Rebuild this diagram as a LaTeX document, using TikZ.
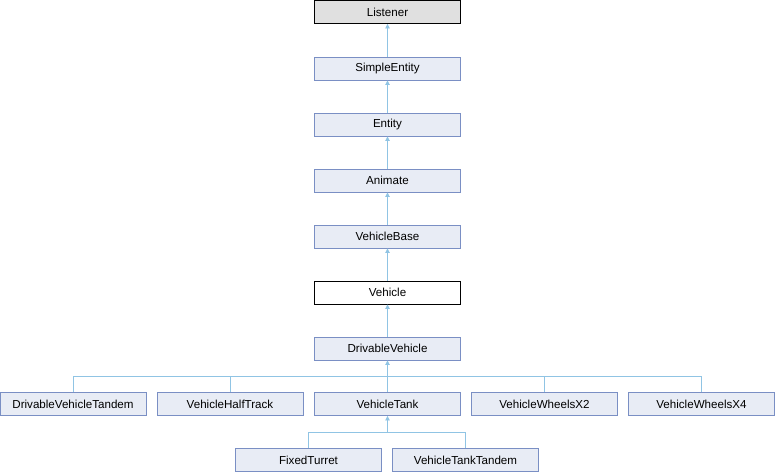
\documentclass[tikz,border=0pt]{standalone}
\usepackage{fontspec}
\setmainfont{Liberation Sans}
\usetikzlibrary{arrows.meta}
\definecolor{boxfill}{HTML}{E8ECF5}
\definecolor{boxdraw}{HTML}{7A8FC4}
\definecolor{edgec}{HTML}{90C4E4}
\definecolor{greyfill}{HTML}{E0E0E0}
\tikzset{
  cls/.style={draw=boxdraw, fill=boxfill, line width=0.9pt, minimum width=146pt, minimum height=23pt, inner sep=0pt, font=\fontsize{11.6pt}{13pt}\selectfont},
  top/.style={cls, draw=black, fill=greyfill},
  cur/.style={cls, draw=black, fill=white},
  edge/.style={draw=edgec, line width=0.9pt},
  inh/.style={edge, -{Triangle[width=4.5pt,length=4.5pt]}}
}
\begin{document}
\begin{tikzpicture}[x=1pt,y=-1pt]
\useasboundingbox (0,0) rectangle (775,472);
\node[top] (listener) at (387.5,12) {Listener};
\node[cls] (simple) at (387.5,68.5) {SimpleEntity};
\node[cls] (entity) at (387.5,124.5) {Entity};
\node[cls] (animate) at (387.5,180.5) {Animate};
\node[cls] (vbase) at (387.5,236.5) {VehicleBase};
\node[cur] (vehicle) at (387.5,292.5) {Vehicle};
\node[cls] (dv) at (387.5,348.5) {DrivableVehicle};
\node[cls] (dvt) at (73,404) {DrivableVehicleTandem};
\node[cls] (vht) at (230,404) {VehicleHalfTrack};
\node[cls] (vt) at (387.5,404) {VehicleTank};
\node[cls] (vw2) at (544.5,404) {VehicleWheelsX2};
\node[cls] (vw4) at (701.5,404) {VehicleWheelsX4};
\node[cls] (ft) at (308.5,460) {FixedTurret};
\node[cls] (vtt) at (465.5,460) {VehicleTankTandem};
\coordinate (bus1) at (387.5,376.3);
\coordinate (bus2) at (387.5,432.3);
\draw[inh] (simple) -- (listener);
\draw[inh] (entity) -- (simple);
\draw[inh] (animate) -- (entity);
\draw[inh] (vbase) -- (animate);
\draw[inh] (vehicle) -- (vbase);
\draw[inh] (dv) -- (vehicle);
\draw[inh] (vt) -- (dv);
\draw[edge] (dvt.north) |- (bus1) -| (vw4.north);
\draw[edge] (vht.north) |- (bus1);
\draw[edge] (vw2.north) |- (bus1);
\draw[edge] (ft.north) |- (bus2) -| (vtt.north);
\draw[inh] (bus2) -- (vt);
\end{tikzpicture}
\end{document}
